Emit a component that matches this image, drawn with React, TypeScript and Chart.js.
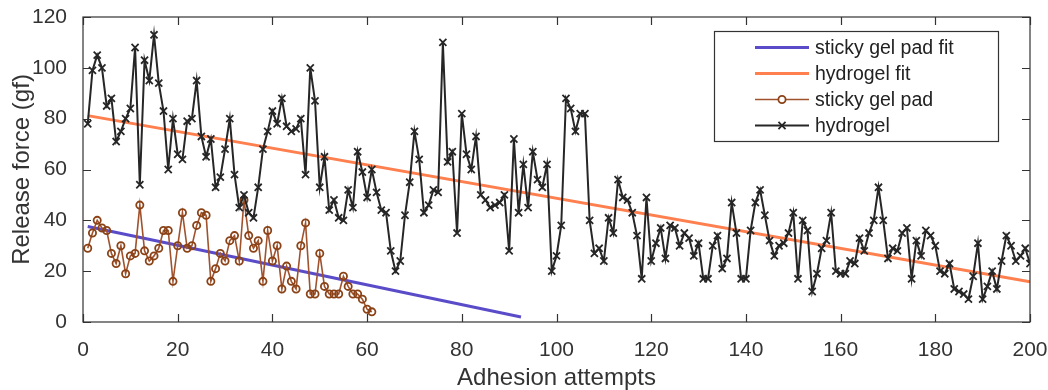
import { useEffect, useRef } from "react";
import { Chart, registerables } from "chart.js";

Chart.register(...registerables);

// ---------- data ----------
const hydrogelForce = [
  78, 99, 105, 100, 85, 88, 71, 75, 80, 84,
  108, 54, 103, 95, 113, 94, 83, 60, 80, 66,
  64, 79, 80, 95, 73, 65, 72, 53, 57, 68,
  80, 58, 45, 50, 43, 41, 53, 68, 75, 83,
  78, 88, 77, 75, 76, 80, 58, 100, 87, 53,
  65, 44, 48, 41, 40, 52, 45, 67, 59, 49,
  60, 51, 44, 43, 28, 20, 24, 42, 55, 75,
  64, 43, 46, 52, 51, 110, 63, 67, 35, 82,
  66, 60, 73, 50, 48, 45, 46, 47, 50, 28,
  72, 43, 62, 45, 67, 56, 53, 62, 20, 26,
  38, 88, 84, 75, 82, 82, 40, 27, 29, 24,
  41, 35, 56, 49, 48, 43, 34, 17, 49, 24,
  31, 37, 25, 38, 37, 30, 35, 33, 26, 31,
  17, 17, 30, 34, 21, 25, 47, 35, 17, 17,
  36, 47, 52, 42, 32, 26, 30, 31, 35, 43,
  17, 40, 36, 12, 19, 29, 32, 43, 20, 19,
  19, 24, 23, 33, 28, 35, 40, 53, 40, 25,
  29, 28, 35, 37, 17, 32, 26, 36, 34, 30,
  20, 19, 23, 13, 12, 11, 9, 18, 31, 9,
  14, 20, 13, 24, 34, 30, 24, 26, 29, 23,
];

const stickyPadForce = [
  29, 35, 40, 37, 36, 27, 23, 30, 19, 26,
  27, 46, 28, 24, 26, 29, 36, 36, 16, 30,
  43, 29, 30, 38, 43, 42, 16, 21, 27, 24,
  32, 34, 24, 48, 34, 29, 32, 16, 36, 24,
  30, 13, 22, 16, 13, 30, 39, 11, 11, 27,
  14, 11, 11, 11, 18, 14, 11, 11, 9, 5,
  4,
];

const stickyFitAttempts = [1, 92.5];
const stickyFitForce = [37.6, 2];
const hydrogelFitAttempts = [1, 200];
const hydrogelFitForce = [81.2, 15.8];

const seriesLabels = ["sticky gel pad fit", "hydrogel fit", "sticky gel pad", "hydrogel"];
const xAxisTitle = "Adhesion attempts";
const yAxisTitle = "Release force (gf)";
const xRange = [0, 200, 20];
const yRange = [0, 120, 20];

// ---------- styles ----------
const FONT = "'Liberation Sans', Arial, Helvetica, sans-serif";
const C_STICKY_FIT = "#5a4cc8";
const C_HYDRO_FIT = "#ff7f4f";
const C_STICKY = "#a0522d";
const C_STICKY_PT = "#8a4216";
const C_HYDRO = "#262626";

const toPoints = (xs: number[], ys: number[]) => ys.map((y, i) => ({ x: xs[i], y }));
const indexPoints = (ys: number[]) => ys.map((y, i) => ({ x: i + 1, y }));

const framePlugin = {
  id: "matlabFrame",
  afterDatasetsDraw(chart: any) {
    const { ctx, chartArea: a, scales } = chart;
    ctx.save();
    ctx.strokeStyle = "#333";
    ctx.lineWidth = 1.2;
    ctx.strokeRect(a.left, a.top, a.right - a.left, a.bottom - a.top);
    const tl = 8;
    ctx.beginPath();
    scales.x.ticks.forEach((t: any) => {
      const px = Math.round(scales.x.getPixelForValue(t.value)) + 0.5;
      ctx.moveTo(px, a.bottom);
      ctx.lineTo(px, a.bottom - tl);
      ctx.moveTo(px, a.top);
      ctx.lineTo(px, a.top + tl);
    });
    scales.y.ticks.forEach((t: any) => {
      const py = Math.round(scales.y.getPixelForValue(t.value)) + 0.5;
      ctx.moveTo(a.left, py);
      ctx.lineTo(a.left + tl, py);
      ctx.moveTo(a.right, py);
      ctx.lineTo(a.right - tl, py);
    });
    ctx.stroke();

    // legend box (inside plot, upper right)
    const bx = 714, by = 31, bw = 284, bh = 110;
    ctx.fillStyle = "#fff";
    ctx.fillRect(bx, by, bw, bh);
    ctx.strokeStyle = "#333";
    ctx.lineWidth = 1.2;
    ctx.strokeRect(bx + 0.5, by + 0.5, bw, bh);
    const datasets = chart.data.datasets;
    ctx.font = `19.5px ${FONT}`;
    ctx.textBaseline = "middle";
    ctx.textAlign = "left";
    datasets.forEach((ds: any, i: number) => {
      const y = 47.5 + i * 26;
      const x0 = 755, x1 = 809, xm = (x0 + x1) / 2;
      ctx.strokeStyle = ds.borderColor;
      ctx.lineWidth = ds.borderWidth;
      ctx.beginPath();
      ctx.moveTo(x0, y);
      ctx.lineTo(x1, y);
      ctx.stroke();
      if (ds.pointStyle === "circle" && ds.pointRadius > 0) {
        ctx.strokeStyle = ds.pointBorderColor;
        ctx.lineWidth = ds.pointBorderWidth;
        ctx.beginPath();
        ctx.arc(xm, y, ds.pointRadius, 0, Math.PI * 2);
        ctx.fillStyle = "#fff";
        ctx.fill();
        ctx.stroke();
      } else if (ds.pointStyle === "crossRot" && ds.pointRadius > 0) {
        const r = ds.pointRadius * 0.707;
        ctx.strokeStyle = ds.pointBorderColor;
        ctx.lineWidth = ds.pointBorderWidth;
        ctx.beginPath();
        ctx.moveTo(xm - r, y - r);
        ctx.lineTo(xm + r, y + r);
        ctx.moveTo(xm - r, y + r);
        ctx.lineTo(xm + r, y - r);
        ctx.stroke();
      }
      ctx.fillStyle = "#222";
      ctx.fillText(ds.label, 815, y + 1);
    });
    ctx.restore();
  },
};

export default function App() {
  const ref = useRef<HTMLCanvasElement | null>(null);

  useEffect(() => {
    if (!ref.current) return;
    const chart = new Chart(ref.current, {
      type: "line",
      data: {
        datasets: [
          {
            label: seriesLabels[0],
            data: toPoints(stickyFitAttempts, stickyFitForce),
            borderColor: C_STICKY_FIT,
            borderWidth: 3,
            pointRadius: 0,
            order: 3,
          },
          {
            label: seriesLabels[1],
            data: toPoints(hydrogelFitAttempts, hydrogelFitForce),
            borderColor: C_HYDRO_FIT,
            borderWidth: 3,
            pointRadius: 0,
            order: 2,
          },
          {
            label: seriesLabels[2],
            data: indexPoints(stickyPadForce),
            borderColor: C_STICKY,
            borderWidth: 1.6,
            pointStyle: "circle",
            pointRadius: 3.6,
            pointBorderWidth: 1.8,
            pointBorderColor: C_STICKY_PT,
            pointBackgroundColor: "rgba(255,255,255,0)",
            order: 1,
          },
          {
            label: seriesLabels[3],
            data: indexPoints(hydrogelForce),
            borderColor: C_HYDRO,
            borderWidth: 2,
            pointStyle: "crossRot",
            pointRadius: 5,
            pointBorderWidth: 1.8,
            pointBorderColor: C_HYDRO,
            order: 0,
          },
        ] as any,
      },
      options: {
        animation: false,
        responsive: false,
        devicePixelRatio: 1,
        layout: { padding: { left: 0, right: 18, top: 17, bottom: 0 } },
        plugins: { legend: { display: false }, tooltip: { enabled: false } },
        elements: { line: { tension: 0 } },
        scales: {
          x: {
            type: "linear",
            min: xRange[0],
            max: xRange[1],
            grid: { display: false },
            border: { display: false },
            ticks: {
              stepSize: xRange[2],
              padding: 8,
              color: "#333",
              font: { family: FONT, size: 21 },
              maxRotation: 0,
            },
            title: {
              display: true,
              text: xAxisTitle,
              color: "#333",
              font: { family: FONT, size: 24, lineHeight: 1 },
              padding: { top: 0, bottom: 0 },
            },
            afterFit: (s: any) => {
              s.height = 68;
              s.paddingRight = 0;
              s.paddingLeft = 0;
            },
          },
          y: {
            type: "linear",
            min: yRange[0],
            max: yRange[1],
            grid: { display: false },
            border: { display: false },
            ticks: {
              stepSize: yRange[2],
              padding: 8,
              color: "#333",
              font: { family: FONT, size: 21 },
            },
            title: {
              display: true,
              text: yAxisTitle,
              color: "#333",
              font: { family: FONT, size: 24, lineHeight: 1 },
              padding: { top: 10, bottom: 0 },
            },
            afterFit: (s: any) => {
              s.width = 83;
              s.paddingTop = 0;
              s.paddingBottom = 0;
            },
          },
        },
      },
      plugins: [framePlugin],
    });
    return () => chart.destroy();
  }, []);

  return (
    <div style={{ position: "absolute", left: 0, top: 0, width: 1048, height: 390, background: "#fff" }}>
      <canvas ref={ref} width={1048} height={390} style={{ display: "block" }} />
    </div>
  );
}
